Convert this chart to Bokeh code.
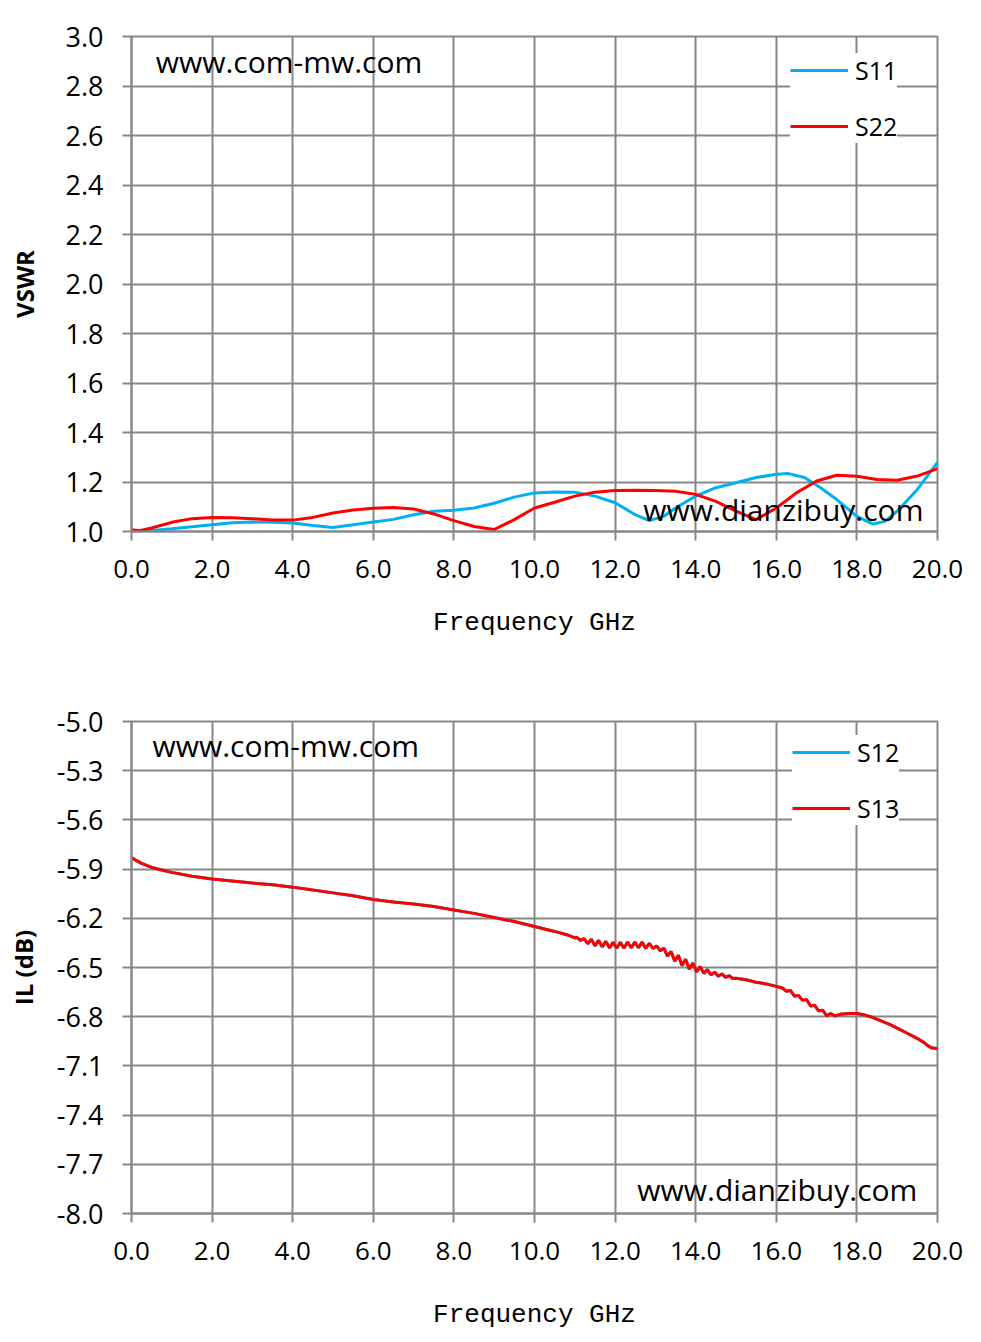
from bokeh.plotting import figure
from bokeh.layouts import column
from bokeh.models import FixedTicker, Label, Legend, LegendItem
from bokeh.embed import file_html
from bokeh.resources import INLINE

# ---------------- data: VSWR chart ----------------
s11_f = [0.0, 0.5, 1.0, 1.5, 2.0, 2.5, 3.0, 3.5, 4.0, 4.5, 5.0, 5.5, 6.0, 6.5, 7.0, 7.5,
         8.0, 8.5, 9.0, 9.5, 10.0, 10.5, 11.0, 11.5, 12.0, 12.5, 12.85, 13.2, 13.5, 14.0,
         14.5, 15.0, 15.5, 16.0, 16.3, 16.7, 17.1, 17.5, 18.0, 18.4, 18.7, 19.0, 19.5, 20.0]
s11_v = [1.000, 1.004, 1.011, 1.019, 1.027, 1.035, 1.038, 1.037, 1.034, 1.024, 1.016, 1.027,
         1.038, 1.049, 1.068, 1.082, 1.086, 1.095, 1.114, 1.139, 1.156, 1.160, 1.159, 1.143,
         1.116, 1.068, 1.044, 1.061, 1.095, 1.143, 1.177, 1.197, 1.218, 1.231, 1.234, 1.218,
         1.177, 1.129, 1.061, 1.030, 1.041, 1.082, 1.170, 1.279]

s22_f = [0.0, 0.2, 0.5, 1.0, 1.5, 2.0, 2.5, 3.0, 3.5, 4.0, 4.5, 5.0, 5.5, 6.0, 6.5, 7.0,
         7.5, 8.0, 8.5, 9.0, 9.5, 10.0, 10.5, 11.0, 11.5, 12.0, 12.5, 13.0, 13.5, 14.0,
         14.5, 15.0, 15.5, 16.0, 16.5, 17.0, 17.5, 18.0, 18.5, 19.0, 19.5, 20.0]
s22_v = [1.007, 1.003, 1.014, 1.037, 1.052, 1.057, 1.056, 1.052, 1.046, 1.046, 1.057, 1.075,
         1.087, 1.094, 1.097, 1.091, 1.071, 1.044, 1.020, 1.008, 1.048, 1.095, 1.118, 1.143,
         1.159, 1.166, 1.167, 1.166, 1.163, 1.150, 1.122, 1.082, 1.048, 1.095, 1.156, 1.204,
         1.227, 1.223, 1.210, 1.207, 1.224, 1.254]

# ---------------- data: insertion loss chart ----------------
il_f = [0.0, 0.1, 0.25, 0.5, 0.75, 1.0, 1.5, 2.0, 2.5, 3.0, 3.5, 4.0, 4.5, 5.0, 5.5, 6.0,
        6.5, 7.0, 7.5, 8.0, 8.5, 9.0, 9.5, 10.0, 10.5, 10.8, 11.0,
        11.05, 11.14, 11.23, 11.32, 11.41, 11.50, 11.59, 11.68, 11.77, 11.86, 11.95, 12.04,
        12.13, 12.22, 12.31, 12.40, 12.49, 12.58, 12.67, 12.76, 12.85, 12.94, 13.03, 13.12,
        13.21, 13.30, 13.39, 13.48, 13.57, 13.66, 13.75, 13.84, 13.93, 14.02, 14.11, 14.20,
        14.29, 14.38, 14.47, 14.56, 14.65, 14.74, 14.83, 14.92, 15.0,
        15.25, 15.5, 15.75, 16.0, 16.15, 16.25, 16.35, 16.45, 16.55, 16.65, 16.75, 16.85,
        16.95, 17.05, 17.15, 17.25, 17.35, 17.45, 17.6, 17.8, 18.0, 18.2, 18.4, 18.6, 18.8,
        19.0, 19.2, 19.4, 19.55, 19.65, 19.75, 19.85, 20.0]
s13_db = [-5.830, -5.845, -5.865, -5.890, -5.905, -5.920, -5.943, -5.960, -5.972, -5.985,
          -5.995, -6.010, -6.028, -6.045, -6.062, -6.085, -6.100, -6.113, -6.128, -6.150,
          -6.170, -6.195, -6.220, -6.250, -6.280, -6.300, -6.320,
          -6.316, -6.334, -6.324, -6.355, -6.328, -6.368, -6.335, -6.374, -6.341, -6.380,
          -6.346, -6.383, -6.347, -6.382, -6.345, -6.380, -6.344, -6.380, -6.344, -6.384,
          -6.352, -6.384, -6.368, -6.398, -6.382, -6.430, -6.402, -6.462, -6.425, -6.488,
          -6.450, -6.510, -6.473, -6.527, -6.495, -6.536, -6.513, -6.545, -6.528, -6.553,
          -6.539, -6.560, -6.550, -6.567, -6.565,
          -6.575, -6.590, -6.600, -6.615, -6.625, -6.645, -6.640, -6.675, -6.670, -6.700,
          -6.695, -6.735, -6.730, -6.765, -6.760, -6.795, -6.780, -6.795, -6.785, -6.780,
          -6.780, -6.790, -6.805, -6.825, -6.845, -6.870, -6.895, -6.920, -6.940, -6.955,
          -6.975, -6.990, -6.995]
# S12 lies exactly under S13 in the picture (only the red trace is visible)
s12_db = list(s13_db)

x_ticks = [0, 2, 4, 6, 8, 10, 12, 14, 16, 18, 20]
x_tick_labels = ["0.0", "2.0", "4.0", "6.0", "8.0", "10.0", "12.0", "14.0", "16.0", "18.0", "20.0"]
vswr_ticks = [1.0, 1.2, 1.4, 1.6, 1.8, 2.0, 2.2, 2.4, 2.6, 2.8, 3.0]
vswr_tick_labels = ["1.0", "1.2", "1.4", "1.6", "1.8", "2.0", "2.2", "2.4", "2.6", "2.8", "3.0"]
il_ticks = [-5.0, -5.3, -5.6, -5.9, -6.2, -6.5, -6.8, -7.1, -7.4, -7.7, -8.0]
il_tick_labels = ["-5.0", "-5.3", "-5.6", "-5.9", "-6.2", "-6.5", "-6.8", "-7.1", "-7.4", "-7.7", "-8.0"]

BLUE = "#00B0F0"
RED = "#FF0000"
GRID = "#878787"
TICK_FONT = "Open Sans"


def make_fig(height, top, bottom, y_range, yticks, ylabels, ylabel, xlabel_standoff,
             ylabel_standoff):
    p = figure(width=968, height=height, x_range=(0, 20), y_range=y_range,
               output_backend="svg", toolbar_location=None,
               min_border_left=131, min_border_right=31,
               min_border_top=top, min_border_bottom=bottom)
    p.outline_line_color = GRID
    p.outline_line_width = 2
    p.xaxis.ticker = FixedTicker(ticks=x_ticks)
    p.xaxis.major_label_overrides = {t: l for t, l in zip(x_ticks, x_tick_labels)}
    p.yaxis.ticker = FixedTicker(ticks=yticks)
    p.yaxis.major_label_overrides = {t: l for t, l in zip(yticks, ylabels)}
    for ax in (p.xaxis, p.yaxis):
        ax.axis_line_color = GRID
        ax.axis_line_width = 2
        ax.major_tick_line_color = GRID
        ax.major_tick_line_width = 2
        ax.major_tick_out = 9
        ax.major_tick_in = 0
        ax.minor_tick_line_color = None
        ax.major_label_text_font = TICK_FONT
        ax.major_label_text_color = "#000000"
    p.xaxis.major_label_text_font_size = "26px"
    p.yaxis.major_label_text_font_size = "27px"
    p.xaxis.major_label_standoff = 19
    p.yaxis.major_label_standoff = 19
    p.xaxis.axis_label = "Frequency GHz"
    p.xaxis.axis_label_text_font = "Liberation Mono"
    p.xaxis.axis_label_text_font_style = "normal"
    p.xaxis.axis_label_text_font_size = "26px"
    p.xaxis.axis_label_text_color = "#000000"
    p.xaxis.axis_label_standoff = xlabel_standoff
    p.yaxis.axis_label = ylabel
    p.yaxis.axis_label_text_font = TICK_FONT
    p.yaxis.axis_label_text_font_style = "bold"
    p.yaxis.axis_label_text_font_size = "24px"
    p.yaxis.axis_label_text_color = "#000000"
    p.yaxis.axis_label_standoff = ylabel_standoff
    p.xgrid.ticker = FixedTicker(ticks=x_ticks)
    p.ygrid.ticker = FixedTicker(ticks=yticks)
    for g in (p.xgrid, p.ygrid):
        g.grid_line_color = GRID
        g.grid_line_width = 2
    p.background_fill_color = "white"
    p.border_fill_color = "white"
    return p


def add_legend(p, items, loc):
    leg = Legend(items=items, location=loc, background_fill_color="white",
                 background_fill_alpha=1.0, border_line_color=None,
                 glyph_width=58, glyph_height=26, label_standoff=7, spacing=22,
                 padding=14, margin=0, label_text_font=TICK_FONT,
                 label_text_font_size="25px", label_text_color="#000000",
                 label_height=26)
    p.add_layout(leg, "center")


def add_text(p, x, y, txt):
    p.add_layout(Label(x=x, y=y, text=txt, text_font=TICK_FONT, text_font_size="30px",
                       text_align="left", text_baseline="middle", text_color="#000000"))


# ---------------- top chart ----------------
p1 = make_fig(660, 36, 129, (1.0, 3.0), vswr_ticks, vswr_tick_labels, "VSWR", 27, 22)
r11 = p1.line(s11_f, s11_v, line_color=BLUE, line_width=3)
r22 = p1.line(s22_f, s22_v, line_color=RED, line_width=3)
add_legend(p1, [LegendItem(label="S11", renderers=[r11]),
                LegendItem(label="S22", renderers=[r22])], (659, 388))
add_text(p1, 0.6, 2.9, "www.com-mw.com")
add_text(p1, 12.7, 1.089, "www.dianzibuy.com")

# ---------------- bottom chart ----------------
p2 = make_fig(674, 61, 121, (-8.0, -5.0), il_ticks, il_tick_labels, "IL (dB)", 37, 14)
r12 = p2.line(il_f, s12_db, line_color=BLUE, line_width=3)
r13 = p2.line(il_f, s13_db, line_color=RED, line_width=3)
add_legend(p2, [LegendItem(label="S12", renderers=[r12]),
                LegendItem(label="S13", renderers=[r13])], (661, 388))
add_text(p2, 0.52, -5.146, "www.com-mw.com")
add_text(p2, 12.55, -7.854, "www.dianzibuy.com")

layout = column(p1, p2, spacing=0)
open("out.html", "w").write(file_html(layout, INLINE))
